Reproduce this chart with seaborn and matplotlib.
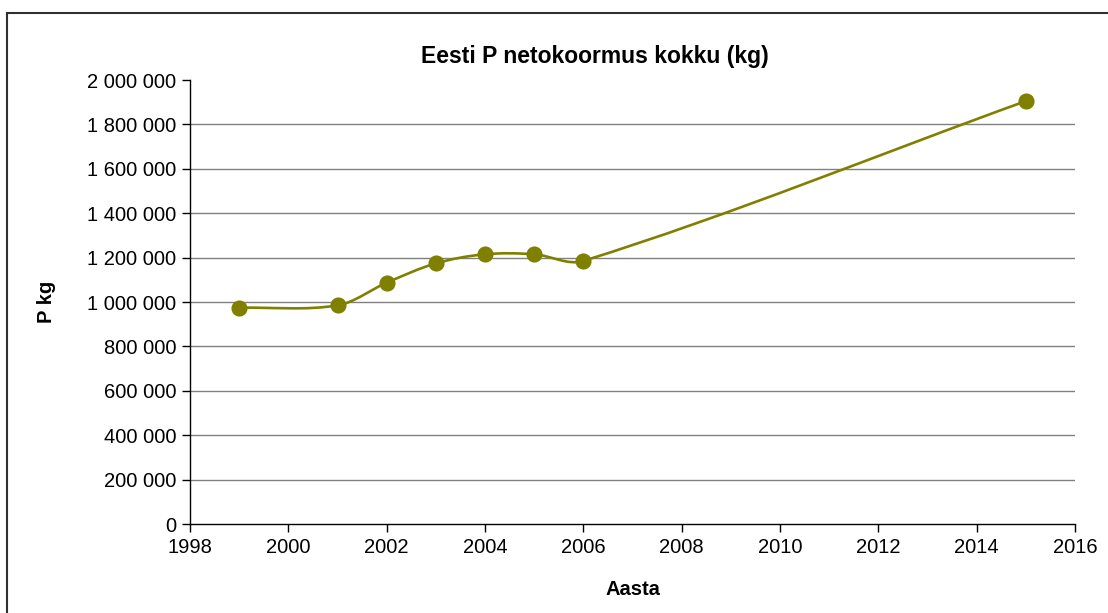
import numpy as np
import matplotlib.pyplot as plt
import matplotlib.ticker as mticker
from matplotlib.path import Path
from matplotlib.patches import PathPatch, Rectangle
import seaborn as sns
import pandas as pd

# Eesti P netokoormus (kg)
years = [1999, 2001, 2002, 2003, 2004, 2005, 2006, 2015]
p_kg = [974000, 985000, 1087000, 1174000, 1215000, 1215000, 1185000, 1905000]
x_ticks = list(range(1998, 2017, 2))
y_ticks = list(range(0, 2000001, 200000))

df = pd.DataFrame({'Aasta': years, 'P kg': p_kg})
olive = '#808000'

sns.set_theme(style='white')
plt.rcParams['font.family'] = ['Liberation Sans', 'DejaVu Sans']
plt.rcParams['text.color'] = 'black'

W, H = 1108, 613
fig = plt.figure(figsize=(W / 100, H / 100), dpi=100)
ax = fig.add_axes([190 / W, 1 - 524 / H, 885 / W, 444 / H])
ax.set_xlim(1998, 2016)
ax.set_ylim(0, 2000000)
ax.set_xticks(x_ticks)
ax.set_yticks(y_ticks)
ax.yaxis.set_major_formatter(mticker.FuncFormatter(lambda v, p: f'{int(v):,}'.replace(',', ' ')))
ax.tick_params(axis='both', which='major', direction='out', length=6, width=1,
               color='black', labelsize=14.5, labelcolor='black', pad=4,
               bottom=True, left=True)

# gridlines (no line at the very top)
for v in y_ticks[1:-1]:
    ax.axhline(v, color='#808080', lw=1, zorder=0)

for s in ['top', 'right']:
    ax.spines[s].set_visible(False)
for s in ['left', 'bottom']:
    ax.spines[s].set_color('black')
    ax.spines[s].set_linewidth(1)

# smoothed line (Excel-style bezier), control points in pixel space
pts = ax.transData.transform(np.column_stack([years, p_kg]))
n = len(pts)
tang = []
for i in range(n):
    a = pts[max(i - 1, 0)]
    b = pts[min(i + 1, n - 1)]
    d = b - a
    tang.append(d / np.hypot(*d))
verts = [pts[0]]
codes = [Path.MOVETO]
for i in range(n - 1):
    seg = np.hypot(*(pts[i + 1] - pts[i]))
    c1 = pts[i] + tang[i] * seg / 3
    c2 = pts[i + 1] - tang[i + 1] * seg / 3
    verts += [c1, c2, pts[i + 1]]
    codes += [Path.CURVE4] * 3
verts = ax.transData.inverted().transform(np.array(verts))
ax.add_patch(PathPatch(Path(verts, codes), fill=False, edgecolor=olive, lw=1.9, zorder=2))

sns.scatterplot(data=df, x='Aasta', y='P kg', ax=ax, color=olive, s=135,
                edgecolor=olive, linewidth=0, zorder=3, clip_on=False)

ax.set_xlabel('Aasta', fontweight='bold', fontsize=14.5, color='black')
ax.set_ylabel('P kg', fontweight='bold', fontsize=14.5, color='black')
ax.xaxis.set_label_coords(0.5, (524 - 580) / 444)
ax.yaxis.set_label_coords((56 - 190) / 885, 0.5)

fig.text(595 / W, 1 - 57 / H, 'Eesti P netokoormus kokku (kg)', ha='center', va='center',
         fontweight='bold', fontsize=16.5, color='black')

# chart area border (right and bottom are cut off)
fig.add_artist(Rectangle((7 / W, -0.1), 1.2, 1.1 - 13 / H, transform=fig.transFigure,
                         fill=False, edgecolor='#303030', lw=1.5))

fig.savefig('out.png', dpi=100)
